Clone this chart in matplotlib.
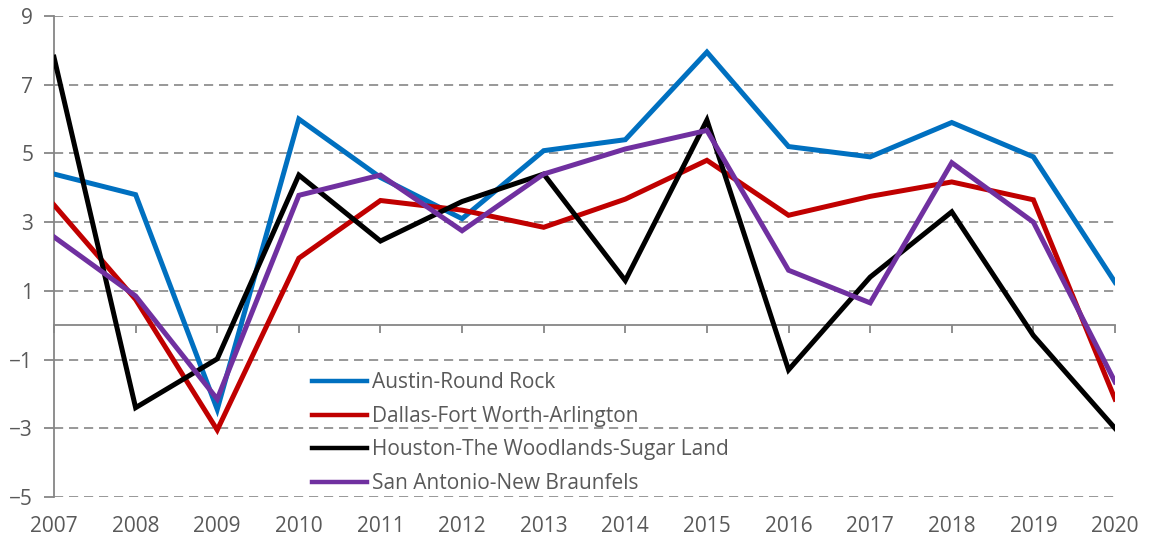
import matplotlib
matplotlib.use("Agg")
import matplotlib.pyplot as plt

years = [2007, 2008, 2009, 2010, 2011, 2012, 2013, 2014, 2015, 2016, 2017, 2018, 2019, 2020]
austin = [4.4, 3.8, -2.45, 6.0, 4.3, 3.1, 5.08, 5.4, 7.95, 5.2, 4.9, 5.9, 4.9, 1.25]
dallas = [3.5, 0.75, -3.05, 1.95, 3.63, 3.35, 2.85, 3.67, 4.8, 3.2, 3.75, 4.17, 3.65, -2.15]
houston = [7.8, -2.4, -0.98, 4.37, 2.45, 3.6, 4.4, 1.3, 5.97, -1.3, 1.4, 3.3, -0.3, -3.0]
sanantonio = [2.57, 0.85, -2.15, 3.78, 4.37, 2.75, 4.4, 5.13, 5.67, 1.6, 0.65, 4.73, 3.0, -1.65]

series_names = ["Austin-Round Rock", "Dallas-Fort Worth-Arlington",
                "Houston-The Woodlands-Sugar Land", "San Antonio-New Braunfels"]
series_colors = ["#0070C0", "#C00000", "#000000", "#7030A0"]
yticks = [-5, -3, -1, 1, 3, 5, 7, 9]

plt.rcParams['font.family'] = ['Open Sans', 'DejaVu Sans']
gray_text = "#595959"
axis_gray = "#868686"

fig = plt.figure(figsize=(11.52, 5.41), dpi=100)
ax = fig.add_axes([54/1152, 1-497/541, (1115-54)/1152, (497-16)/541])

for vals, name, col in zip([austin, dallas, houston, sanantonio], series_names, series_colors):
    ax.plot(years, vals, color=col, lw=3.6, label=name, solid_joinstyle='miter', zorder=3)

ax.set_xlim(years[0], years[-1])
ax.set_ylim(-5, 9)
ax.set_yticks(yticks)
for v in yticks:
    ax.axhline(v, color=axis_gray, lw=1.2, linestyle=(0, (5.5, 3.5)), zorder=1)

for s in ['top', 'right']:
    ax.spines[s].set_visible(False)
ax.spines['left'].set_color(axis_gray)
ax.spines['left'].set_linewidth(1.3)
ax.spines['bottom'].set_position(('data', 0))
ax.spines['bottom'].set_color(axis_gray)
ax.spines['bottom'].set_linewidth(1.3)
ax.set_xticks(years)
ax.tick_params(axis='x', direction='out', length=6, width=1.3, color=axis_gray, labelbottom=False)
ax.tick_params(axis='y', direction='out', length=7, width=1.3, color=axis_gray,
               labelsize=15, labelcolor=gray_text, pad=8)

sec = ax.secondary_xaxis('bottom')
sec.set_xticks(years)
sec.set_xticklabels([str(y) for y in years])
sec.tick_params(length=0, labelsize=15, labelcolor=gray_text, pad=14)
sec.spines['bottom'].set_visible(False)

leg = ax.legend(loc='upper left', bbox_to_anchor=(0.243, 0.259), frameon=False,
                fontsize=15, handlelength=2.65, handletextpad=0.22, labelspacing=0.6,
                borderaxespad=0, borderpad=0)
for t in leg.get_texts():
    t.set_color(gray_text)
for h in leg.get_lines():
    h.set_linewidth(3.2)

fig.savefig("out.png", dpi=100)
